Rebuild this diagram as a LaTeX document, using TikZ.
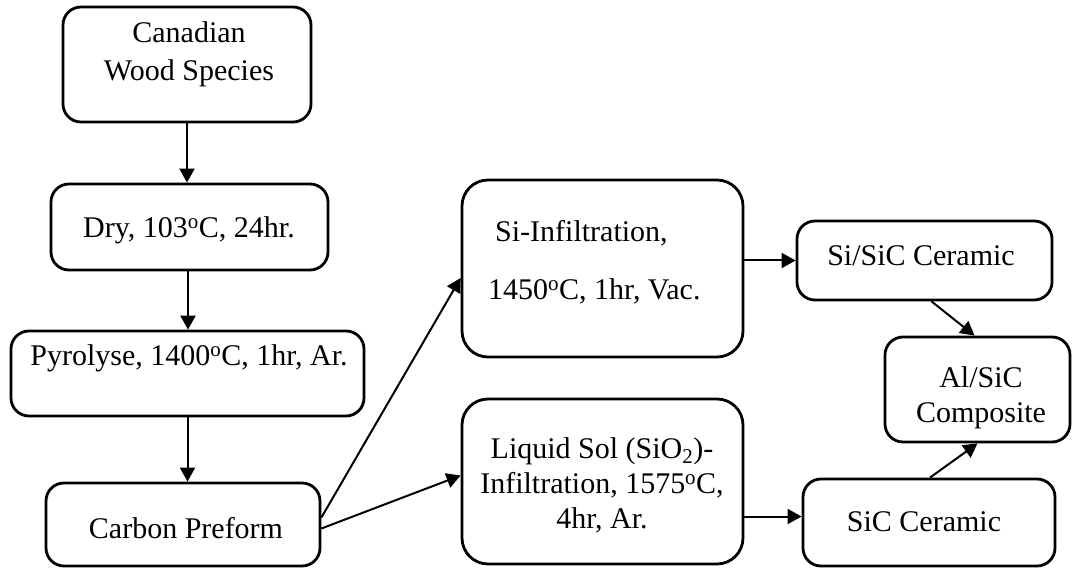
\documentclass[tikz,border=0pt]{standalone}
\usepackage{fontspec}
\setmainfont{Liberation Serif}
\usetikzlibrary{arrows.meta,calc}
\begin{document}
\begin{tikzpicture}[x=1pt,y=-1pt,
  box/.style={draw, line width=2.8pt, rounded corners=18pt, inner sep=0pt, rectangle},
  bigbox/.style={box, rounded corners=26pt},
  txt/.style={font=\fontsize{30}{36}\selectfont, inner sep=0pt, align=center},
  conn/.style={line width=2pt, -{Triangle[length=14pt,width=15pt]}}]
\useasboundingbox (0,0) rectangle (1073,569);

% boxes
\node[box, minimum width=248pt, minimum height=115pt] (cw) at (187,64.5) {};
\node[box, minimum width=277pt, minimum height=86pt] (dry) at (189.5,227) {};
\node[box, minimum width=353pt, minimum height=85pt] (py) at (187.5,373.5) {};
\node[box, minimum width=274pt, minimum height=83pt] (cp) at (183,524.5) {};
\node[bigbox, minimum width=281pt, minimum height=177pt] (si) at (602.5,268.5) {};
\node[bigbox, minimum width=281pt, minimum height=165pt] (ls) at (602.5,481.5) {};
\node[box, minimum width=255pt, minimum height=79pt] (ss) at (924.5,260.5) {};
\node[box, minimum width=185pt, minimum height=105pt] (al) at (977.5,389.5) {};
\node[box, minimum width=252pt, minimum height=87pt] (sc) at (929,522.5) {};

% texts
\node[txt, font=\fontsize{30}{38}\selectfont] (cwt) at (189,54) {Canadian\\Wood Species};
\node[txt] (dryt) at (189,230) {Dry, 103\textsuperscript{o}C, 24hr.};
\node[txt] (pyt) at (189,358) {Pyrolyse, 1400\textsuperscript{o}C, 1hr, Ar.};
\node[txt] (cpt) at (186,528) {Carbon Preform};
\node[txt, anchor=west] (sit1) at (495,233) {Si-Infiltration,};
\node[txt, anchor=west] (sit2) at (488,291) {1450\textsuperscript{o}C, 1hr, Vac.};
\node[txt, font=\fontsize{30}{35}\selectfont] (lst) at (602,485) {Liquid Sol (SiO\textsubscript{2})-\\Infiltration, 1575\textsuperscript{o}C,\\4hr, Ar.};
\node[txt] (sst) at (921,256) {Si/SiC Ceramic};
\node[txt, font=\fontsize{30}{35}\selectfont] (alt) at (981,398) {Al/SiC\\Composite};
\node[txt] (sct) at (924,522) {SiC Ceramic};

% connector end points
\coordinate (scin) at ([yshift=6pt]sc.west);

% connectors
\draw[conn] (cw.south) -- (cw.south |- dry.north);
\draw[conn] ([xshift=-1.5pt]dry.south) -- ([xshift=-1.5pt]dry.south |- py.north);
\draw[conn] (py.south) -- (py.south |- cp.north);
\draw[conn] ([yshift=7pt]cp.east) -- ([yshift=-9.5pt]si.west);
\draw[conn] ([yshift=-4pt]cp.east) -- ([yshift=6pt]ls.west);
\draw[conn] (si.east |- ss.west) -- (ss.west);
\draw[conn] (ls.east |- scin) -- (scin);
\draw[conn] ([xshift=7pt]ss.south) -- ([xshift=-3pt]al.north);
\draw[conn] ([xshift=1pt]sc.north) -- (al.south);
\end{tikzpicture}
\end{document}
